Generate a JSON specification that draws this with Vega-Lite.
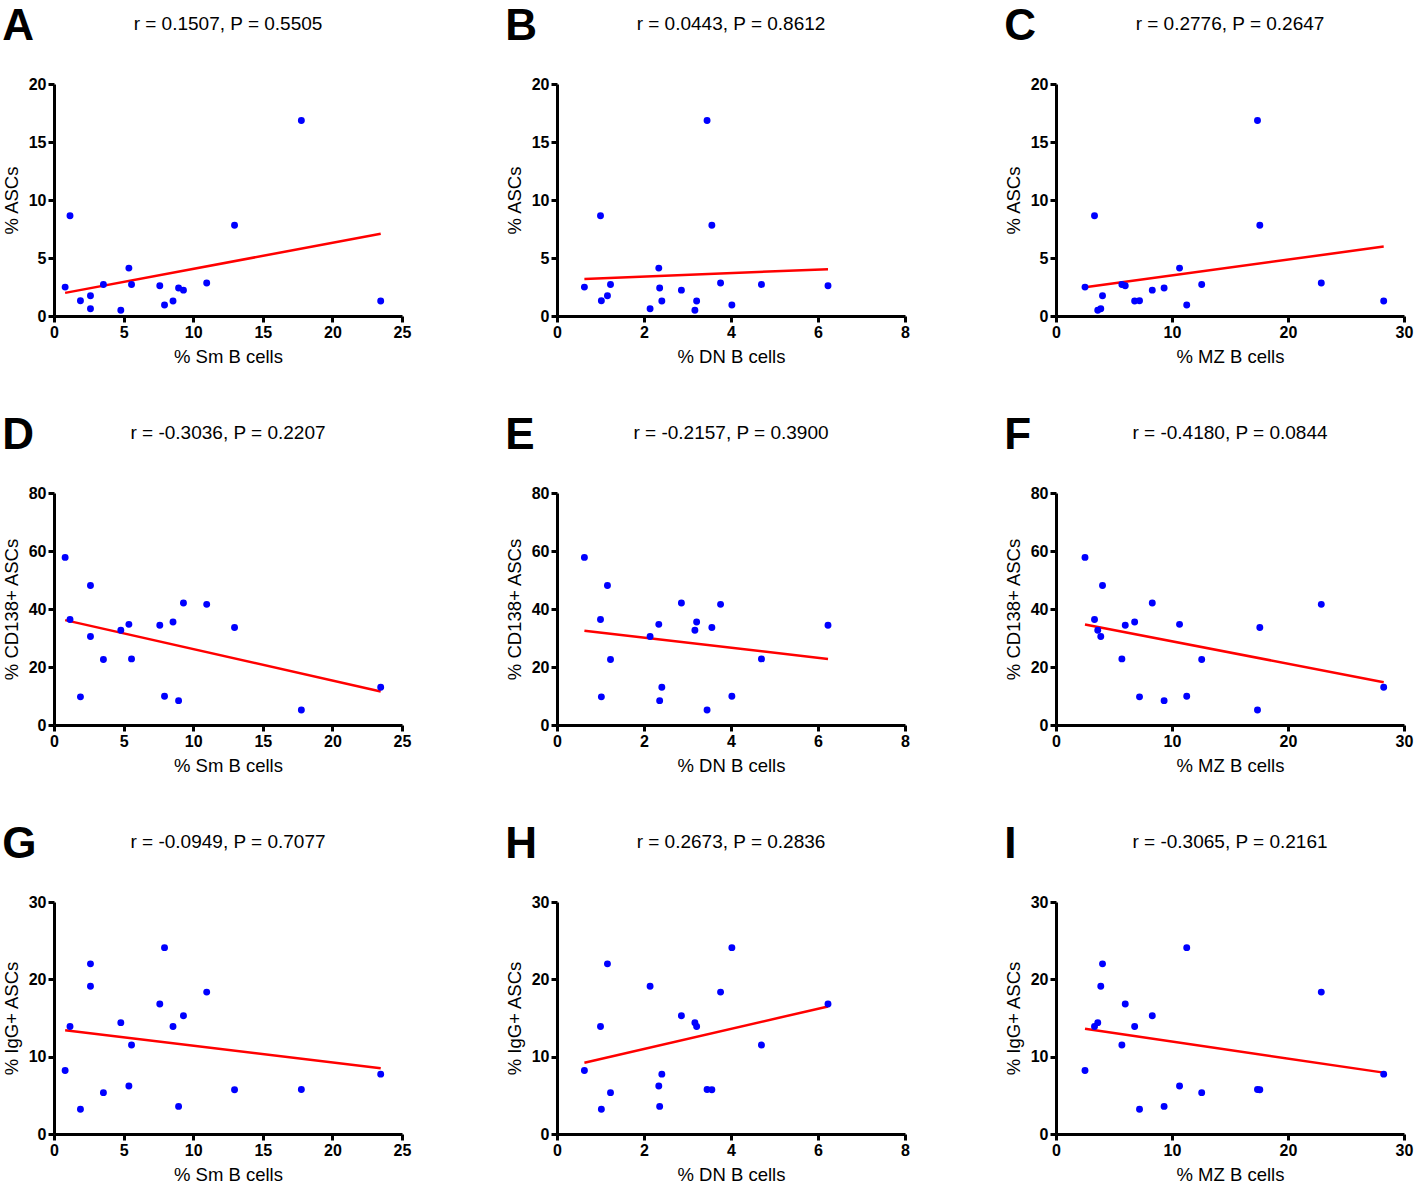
{
"$schema": "https://vega.github.io/schema/vega-lite/v6.json",
"padding": {"left": 2, "top": 5, "right": 5, "bottom": 5},
"datasets": {"s": [
{"subject": 1, "sm": 0.8, "dn": 0.63, "mz": 2.5, "asc": 2.49, "cd138": 57.8, "igg": 8.2},
{"subject": 2, "sm": 1.15, "dn": 1.0, "mz": 3.32, "asc": 8.65, "cd138": 36.4, "igg": 13.9},
{"subject": 3, "sm": 1.9, "dn": 1.02, "mz": 7.2, "asc": 1.32, "cd138": 9.7, "igg": 3.2},
{"subject": 4, "sm": 2.62, "dn": 1.16, "mz": 4.01, "asc": 1.75, "cd138": 48.1, "igg": 22.0},
{"subject": 5, "sm": 2.62, "dn": 2.14, "mz": 3.86, "asc": 0.63, "cd138": 30.5, "igg": 19.1},
{"subject": 6, "sm": 3.55, "dn": 1.23, "mz": 12.56, "asc": 2.72, "cd138": 22.6, "igg": 5.35},
{"subject": 7, "sm": 4.8, "dn": 3.17, "mz": 3.6, "asc": 0.49, "cd138": 32.7, "igg": 14.4},
{"subject": 8, "sm": 5.38, "dn": 2.34, "mz": 10.65, "asc": 4.13, "cd138": 34.7, "igg": 6.2},
{"subject": 9, "sm": 5.57, "dn": 4.7, "mz": 5.68, "asc": 2.72, "cd138": 22.8, "igg": 11.5},
{"subject": 10, "sm": 7.6, "dn": 6.23, "mz": 5.97, "asc": 2.61, "cd138": 34.4, "igg": 16.8},
{"subject": 11, "sm": 7.94, "dn": 4.02, "mz": 11.27, "asc": 0.95, "cd138": 9.9, "igg": 24.1},
{"subject": 12, "sm": 8.55, "dn": 3.21, "mz": 6.78, "asc": 1.29, "cd138": 35.5, "igg": 13.9},
{"subject": 13, "sm": 8.95, "dn": 2.36, "mz": 9.32, "asc": 2.41, "cd138": 8.4, "igg": 3.57},
{"subject": 14, "sm": 9.3, "dn": 2.86, "mz": 8.3, "asc": 2.23, "cd138": 42.1, "igg": 15.3},
{"subject": 15, "sm": 10.97, "dn": 3.76, "mz": 22.87, "asc": 2.84, "cd138": 41.6, "igg": 18.35},
{"subject": 16, "sm": 12.97, "dn": 3.56, "mz": 17.57, "asc": 7.82, "cd138": 33.6, "igg": 5.72},
{"subject": 17, "sm": 17.77, "dn": 3.45, "mz": 17.37, "asc": 16.85, "cd138": 5.2, "igg": 5.76},
{"subject": 18, "sm": 23.47, "dn": 2.41, "mz": 28.25, "asc": 1.29, "cd138": 13.0, "igg": 7.74}
]},
"config": {
  "font": "Liberation Sans",
  "view": {"stroke": null},
  "axis": {"grid": false, "domainColor": "#000000", "domainWidth": 3, "tickColor": "#000000", "tickWidth": 3, "tickSize": 6, "labelFont": "Liberation Sans", "labelFontWeight": "bold", "labelFontSize": 16, "labelColor": "#000000", "labelPadding": 2, "titleFont": "Liberation Sans", "titleFontWeight": "normal", "titleFontSize": 18.5, "titleColor": "#000000", "labelFlush": false, "labelOverlap": false},
  "axisX": {"titlePadding": 7},
  "axisY": {"titlePadding": 7},
  "title": {"font": "Liberation Sans", "fontSize": 19, "fontWeight": "normal", "color": "#000000", "offset": 42},
  "concat": {"spacing": 94}
},
"spacing": 48,
"vconcat": [
{"spacing": 94, "hconcat": [
 {"title": {"text": "A", "anchor": "start", "frame": "bounds", "fontSize": 44, "fontWeight": "bold", "offset": -34}, "hconcat": [
  {"width": 348, "height": 232, "title": "r = 0.1507, P = 0.5505", "data": {"name": "s"},
   "encoding": {"x": {"field": "sm", "type": "quantitative", "scale": {"domain": [0, 25]}, "axis": {"title": "% Sm B cells", "values": [0, 5, 10, 15, 20, 25]}},
                "y": {"field": "asc", "type": "quantitative", "scale": {"domain": [0, 20]}, "axis": {"title": "% ASCs", "values": [0, 5, 10, 15, 20]}}},
   "layer": [
    {"transform": [{"regression": "asc", "on": "sm"}], "mark": {"type": "line", "color": "#FF0000", "strokeWidth": 2.5}},
    {"mark": {"type": "circle", "color": "#0000FF", "size": 48, "opacity": 1}}
   ]}
 ]},
 {"title": {"text": "B", "anchor": "start", "frame": "bounds", "fontSize": 44, "fontWeight": "bold", "offset": -34}, "hconcat": [
  {"width": 348, "height": 232, "title": "r = 0.0443, P = 0.8612", "data": {"name": "s"},
   "encoding": {"x": {"field": "dn", "type": "quantitative", "scale": {"domain": [0, 8]}, "axis": {"title": "% DN B cells", "values": [0, 2, 4, 6, 8]}},
                "y": {"field": "asc", "type": "quantitative", "scale": {"domain": [0, 20]}, "axis": {"title": "% ASCs", "values": [0, 5, 10, 15, 20]}}},
   "layer": [
    {"transform": [{"regression": "asc", "on": "dn"}], "mark": {"type": "line", "color": "#FF0000", "strokeWidth": 2.5}},
    {"mark": {"type": "circle", "color": "#0000FF", "size": 48, "opacity": 1}}
   ]}
 ]},
 {"title": {"text": "C", "anchor": "start", "frame": "bounds", "fontSize": 44, "fontWeight": "bold", "offset": -34}, "hconcat": [
  {"width": 348, "height": 232, "title": "r = 0.2776, P = 0.2647", "data": {"name": "s"},
   "encoding": {"x": {"field": "mz", "type": "quantitative", "scale": {"domain": [0, 30]}, "axis": {"title": "% MZ B cells", "values": [0, 10, 20, 30]}},
                "y": {"field": "asc", "type": "quantitative", "scale": {"domain": [0, 20]}, "axis": {"title": "% ASCs", "values": [0, 5, 10, 15, 20]}}},
   "layer": [
    {"transform": [{"regression": "asc", "on": "mz"}], "mark": {"type": "line", "color": "#FF0000", "strokeWidth": 2.5}},
    {"mark": {"type": "circle", "color": "#0000FF", "size": 48, "opacity": 1}}
   ]}
 ]}
]},
{"spacing": 94, "hconcat": [
 {"title": {"text": "D", "anchor": "start", "frame": "bounds", "fontSize": 44, "fontWeight": "bold", "offset": -34}, "hconcat": [
  {"width": 348, "height": 232, "title": "r = -0.3036, P = 0.2207", "data": {"name": "s"},
   "encoding": {"x": {"field": "sm", "type": "quantitative", "scale": {"domain": [0, 25]}, "axis": {"title": "% Sm B cells", "values": [0, 5, 10, 15, 20, 25]}},
                "y": {"field": "cd138", "type": "quantitative", "scale": {"domain": [0, 80]}, "axis": {"title": "% CD138+ ASCs", "values": [0, 20, 40, 60, 80]}}},
   "layer": [
    {"transform": [{"regression": "cd138", "on": "sm"}], "mark": {"type": "line", "color": "#FF0000", "strokeWidth": 2.5}},
    {"mark": {"type": "circle", "color": "#0000FF", "size": 48, "opacity": 1}}
   ]}
 ]},
 {"title": {"text": "E", "anchor": "start", "frame": "bounds", "fontSize": 44, "fontWeight": "bold", "offset": -34}, "hconcat": [
  {"width": 348, "height": 232, "title": "r = -0.2157, P = 0.3900", "data": {"name": "s"},
   "encoding": {"x": {"field": "dn", "type": "quantitative", "scale": {"domain": [0, 8]}, "axis": {"title": "% DN B cells", "values": [0, 2, 4, 6, 8]}},
                "y": {"field": "cd138", "type": "quantitative", "scale": {"domain": [0, 80]}, "axis": {"title": "% CD138+ ASCs", "values": [0, 20, 40, 60, 80]}}},
   "layer": [
    {"transform": [{"regression": "cd138", "on": "dn"}], "mark": {"type": "line", "color": "#FF0000", "strokeWidth": 2.5}},
    {"mark": {"type": "circle", "color": "#0000FF", "size": 48, "opacity": 1}}
   ]}
 ]},
 {"title": {"text": "F", "anchor": "start", "frame": "bounds", "fontSize": 44, "fontWeight": "bold", "offset": -34}, "hconcat": [
  {"width": 348, "height": 232, "title": "r = -0.4180, P = 0.0844", "data": {"name": "s"},
   "encoding": {"x": {"field": "mz", "type": "quantitative", "scale": {"domain": [0, 30]}, "axis": {"title": "% MZ B cells", "values": [0, 10, 20, 30]}},
                "y": {"field": "cd138", "type": "quantitative", "scale": {"domain": [0, 80]}, "axis": {"title": "% CD138+ ASCs", "values": [0, 20, 40, 60, 80]}}},
   "layer": [
    {"transform": [{"regression": "cd138", "on": "mz"}], "mark": {"type": "line", "color": "#FF0000", "strokeWidth": 2.5}},
    {"mark": {"type": "circle", "color": "#0000FF", "size": 48, "opacity": 1}}
   ]}
 ]}
]},
{"spacing": 94, "hconcat": [
 {"title": {"text": "G", "anchor": "start", "frame": "bounds", "fontSize": 44, "fontWeight": "bold", "offset": -34}, "hconcat": [
  {"width": 348, "height": 232, "title": "r = -0.0949, P = 0.7077", "data": {"name": "s"},
   "encoding": {"x": {"field": "sm", "type": "quantitative", "scale": {"domain": [0, 25]}, "axis": {"title": "% Sm B cells", "values": [0, 5, 10, 15, 20, 25]}},
                "y": {"field": "igg", "type": "quantitative", "scale": {"domain": [0, 30]}, "axis": {"title": "% IgG+ ASCs", "values": [0, 10, 20, 30]}}},
   "layer": [
    {"transform": [{"regression": "igg", "on": "sm"}], "mark": {"type": "line", "color": "#FF0000", "strokeWidth": 2.5}},
    {"mark": {"type": "circle", "color": "#0000FF", "size": 48, "opacity": 1}}
   ]}
 ]},
 {"title": {"text": "H", "anchor": "start", "frame": "bounds", "fontSize": 44, "fontWeight": "bold", "offset": -34}, "hconcat": [
  {"width": 348, "height": 232, "title": "r = 0.2673, P = 0.2836", "data": {"name": "s"},
   "encoding": {"x": {"field": "dn", "type": "quantitative", "scale": {"domain": [0, 8]}, "axis": {"title": "% DN B cells", "values": [0, 2, 4, 6, 8]}},
                "y": {"field": "igg", "type": "quantitative", "scale": {"domain": [0, 30]}, "axis": {"title": "% IgG+ ASCs", "values": [0, 10, 20, 30]}}},
   "layer": [
    {"transform": [{"regression": "igg", "on": "dn"}], "mark": {"type": "line", "color": "#FF0000", "strokeWidth": 2.5}},
    {"mark": {"type": "circle", "color": "#0000FF", "size": 48, "opacity": 1}}
   ]}
 ]},
 {"title": {"text": "I", "anchor": "start", "frame": "bounds", "fontSize": 44, "fontWeight": "bold", "offset": -34}, "hconcat": [
  {"width": 348, "height": 232, "title": "r = -0.3065, P = 0.2161", "data": {"name": "s"},
   "encoding": {"x": {"field": "mz", "type": "quantitative", "scale": {"domain": [0, 30]}, "axis": {"title": "% MZ B cells", "values": [0, 10, 20, 30]}},
                "y": {"field": "igg", "type": "quantitative", "scale": {"domain": [0, 30]}, "axis": {"title": "% IgG+ ASCs", "values": [0, 10, 20, 30]}}},
   "layer": [
    {"transform": [{"regression": "igg", "on": "mz"}], "mark": {"type": "line", "color": "#FF0000", "strokeWidth": 2.5}},
    {"mark": {"type": "circle", "color": "#0000FF", "size": 48, "opacity": 1}}
   ]}
 ]}
]}
]
}
